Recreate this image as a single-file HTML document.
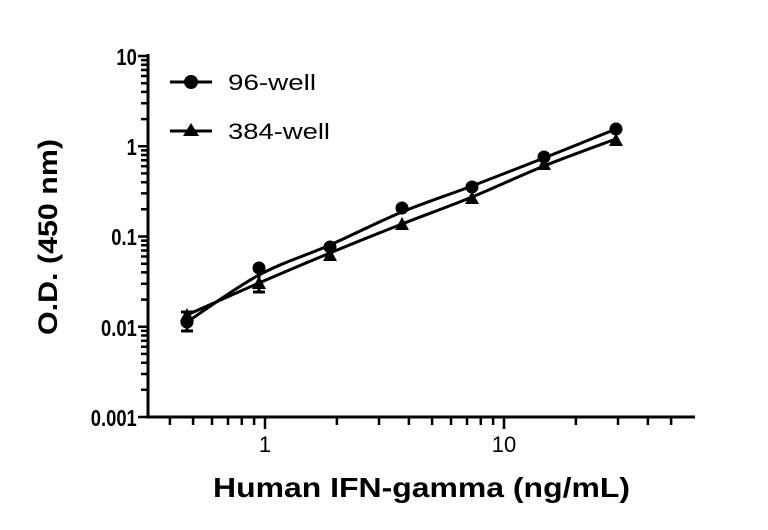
<!DOCTYPE html>
<html><head><meta charset="utf-8"><style>body{margin:0;background:#fff}</style></head><body>
<svg width="768" height="525" xmlns="http://www.w3.org/2000/svg" font-family="Liberation Sans, sans-serif">
<g stroke="#000" stroke-width="3" fill="none">
<line x1="148" y1="54" x2="148" y2="418"/>
<line x1="146" y1="417" x2="695" y2="417"/>
</g>
<path stroke="#000" stroke-width="2.5" d="M138,417H148M138,326.75H148M138,236.5H148M138,146.25H148M138,56H148
M141,389.8H148M141,374H148M141,362.7H148M141,353.9H148M141,346.8H148M141,340.7H148M141,335.5H148M141,330.9H148
M141,299.6H148M141,283.7H148M141,272.4H148M141,263.7H148M141,256.5H148M141,250.5H148M141,245.3H148M141,240.6H148
M141,209.3H148M141,193.4H148M141,182.2H148M141,173.4H148M141,166.3H148M141,160.2H148M141,155H148M141,150.4H148
M141,119.1H148M141,103.2H148M141,91.9H148M141,83.2H148M141,76H148M141,70H148M141,64.8H148M141,60.1H148
M265,417V429M504,417V429
M169.9,417V425M193.1,417V425M212,417V425M228,417V425M241.8,417V425M254.1,417V425
M336.9,417V425M379,417V425M408.9,417V425M432.1,417V425M451,417V425M467,417V425M480.8,417V425M493.1,417V425
M575.9,417V425M618,417V425M647.9,417V425M671.1,417V425"/>
<g font-weight="bold" font-size="23" text-anchor="end" transform="scale(0.8,1)">
<text x="171" y="65">10</text>
<text x="171" y="155">1</text>
<text x="171" y="245">0.1</text>
<text x="171" y="336">0.01</text>
<text x="171" y="426">0.001</text>
</g>
<g font-size="22" text-anchor="middle">
<text x="265" y="452">1</text>
<text x="504" y="452">10</text>
</g>
<text x="213" y="497" font-weight="bold" font-size="28" textLength="417" lengthAdjust="spacingAndGlyphs">Human IFN-gamma (ng/mL)</text>
<text transform="translate(57,335) rotate(-90)" font-weight="bold" font-size="27" textLength="196" lengthAdjust="spacingAndGlyphs">O.D. (450 nm)</text>
<g stroke="#000" stroke-width="3" fill="none">
<path d="M187,322 C199,314.2 235.2,287.8 259,275 C282.8,262.2 306.2,255.5 330,245 C353.8,234.5 378.3,221.8 402,212 C425.7,202.2 448.3,195 472,186 C495.7,177 520,167.5 544,158 C568,148.5 604,133.8 616,129"/>
<path d="M187,315 C199,309.7 235.2,293.3 259,283 C282.8,272.7 306.2,262.8 330,253 C353.8,243.2 378.3,233.3 402,224 C425.7,214.7 448.3,206.7 472,197 C495.7,187.3 520,175.7 544,166 C568,156.3 604,143.5 616,139"/>
<path d="M187,312 V331 M181,331 H193 M181,312 H193"/>
<path d="M259,270 V292 M253,292 H265 M253,270 H265"/>
</g>
<g fill="#000">
<circle cx="187" cy="322" r="6.5"/><circle cx="259" cy="268" r="6.5"/><circle cx="330" cy="247" r="6.5"/>
<circle cx="402" cy="208" r="6.5"/><circle cx="472" cy="187" r="6.5"/><circle cx="544" cy="157" r="6.5"/><circle cx="616" cy="129" r="6.5"/>
<polygon points="187,308 194,321 180,321"/>
<polygon points="259,276 266,289 252,289"/>
<polygon points="330,248 337,261 323,261"/>
<polygon points="402,217 409,230 395,230"/>
<polygon points="472,191 479,204 465,204"/>
<polygon points="544,157 551,170 537,170"/>
<polygon points="616,133 623,146 609,146"/>
<circle cx="191" cy="82" r="7"/>
<polygon points="191,123 199,136 183,136"/>
</g>
<g stroke="#000" stroke-width="3"><line x1="170" y1="82" x2="212" y2="82"/><line x1="170" y1="131" x2="212" y2="131"/></g>
<g font-size="22"><text x="228" y="90" textLength="88" lengthAdjust="spacingAndGlyphs">96-well</text><text x="228" y="139" textLength="102" lengthAdjust="spacingAndGlyphs">384-well</text></g>
</svg>
</body></html>
